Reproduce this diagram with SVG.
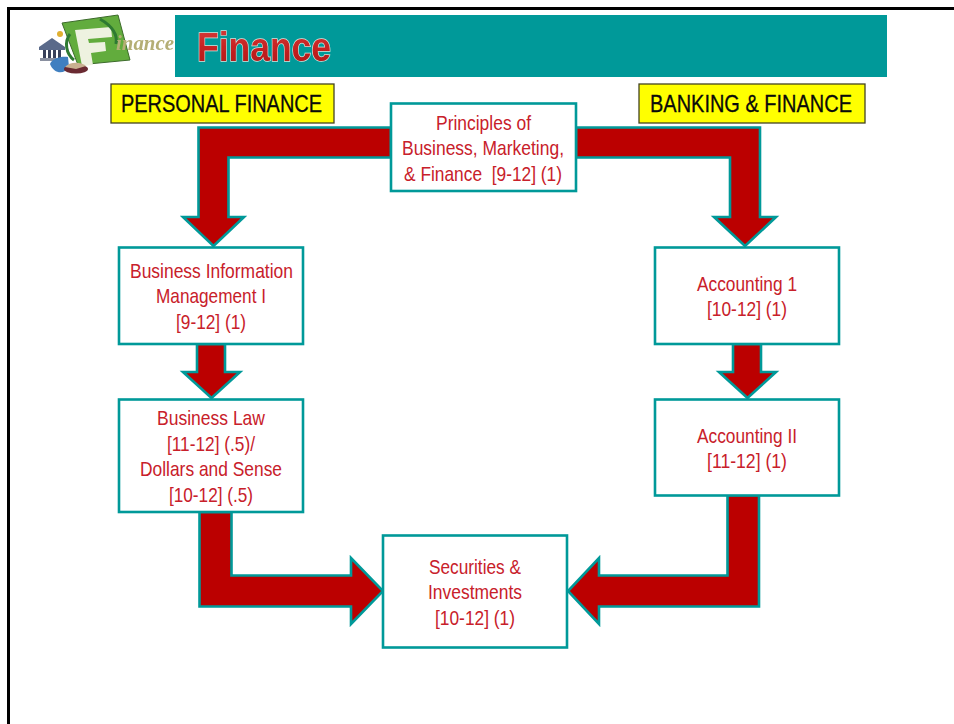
<svg xmlns="http://www.w3.org/2000/svg" width="954" height="724" viewBox="0 0 954 724">
  <defs>
    <linearGradient id="titleFill" x1="0" y1="0" x2="0" y2="1">
      <stop offset="0" stop-color="#d8403c"/>
      <stop offset="0.55" stop-color="#c42020"/>
      <stop offset="1" stop-color="#a81818"/>
    </linearGradient>
    <filter id="soft" x="-5%" y="-5%" width="110%" height="110%"><feGaussianBlur stdDeviation="0.7"/></filter>
    <filter id="softTitle" x="-5%" y="-10%" width="110%" height="120%"><feGaussianBlur stdDeviation="0.35"/></filter>
  </defs>
  <style>
    text { font-family: "Liberation Sans", Arial, sans-serif; }
    .box { fill: #ffffff; stroke: #009999; stroke-width: 2.600; }
    .arrow { fill: #bb0000; stroke: #009999; stroke-width: 2.600; stroke-linejoin: miter; }
    .label { fill: #c8202a; font-size: 21px; text-anchor: middle; }
    .track { fill: #ffff00; stroke: #444422; stroke-width: 1.300; }
    .trackText { fill: #0a0a0a; stroke: #0a0a0a; stroke-width: 0.3; font-size: 24px; }
  </style>
  <rect width="954" height="724" fill="#ffffff"/>
  <path d="M8.5 724V8.5H954" fill="none" stroke="#000000" stroke-width="3"/>

  <g id="logo" filter="url(#soft)">
    <path d="M62 23L118 15L130 60L78 65Z" fill="#62ac3c" stroke="#3d6b2c" stroke-width="1"/>
    <path d="M75 30L111 27L112 37L88 39L89 43L105 42L106 51L91 53L93 65L82 66Z" fill="#eef2e0"/>
    <path d="M70 34C64 42 66 54 74 60M100 19C112 26 118 34 116 44" fill="none" stroke="#2f7a32" stroke-width="3"/>
    <path d="M39 47L52 38L65 47V50H39Z" fill="#5a6a8a"/>
    <path d="M43 50h3v9h-3zM48 50h3v9h-3zM53 50h3v9h-3zM58 50h3v9h-3z" fill="#39415a"/>
    <rect x="40" y="58" width="24" height="3" fill="#8a90a0"/>
    <circle cx="60" cy="34" r="3" fill="#e0b030"/>
    <path d="M50 64C52 58 62 56 68 57L69 67C64 75 54 74 50 64Z" fill="#3f7fc0"/>
    <ellipse cx="76" cy="69" rx="12" ry="4.500" fill="#6a2a30"/>
    <path d="M65 67C69 62 80 61 86 66L76 69Z" fill="#c9b090"/>
    <text x="116" y="50" font-size="21" font-style="italic" font-weight="700" textLength="58" lengthAdjust="spacingAndGlyphs" style="font-family:'Liberation Serif',serif" fill="#b4ae74">inance</text>
  </g>

  <g id="banner">
    <rect x="175" y="15" width="712" height="62" fill="#009999"/>
    <text x="197" y="61" font-size="41" font-weight="700" textLength="134" lengthAdjust="spacingAndGlyphs" fill="url(#titleFill)" stroke="#d8e4dc" stroke-width="1.400" paint-order="stroke" filter="url(#softTitle)">Finance</text>
  </g>

  <g id="connectors">
    <path class="arrow" d="M391 127.500H198.500V217H183L213.500 246L244 217H228.500V157.500H391Z"/>
    <path class="arrow" d="M576 127.500H760V217H776L745 246L714 217H730V157.500H576Z"/>
    <path class="arrow" d="M197 344V372H183L211.500 398L240 372H225V344Z"/>
    <path class="arrow" d="M733 344V372H719L747.500 398L776 372H761V344Z"/>
    <path class="arrow" d="M199.500 512V606.500H351V624L383 591L351 558V575.500H231.500V512Z"/>
    <path class="arrow" d="M759 495V606.500H599V624L568 591L599 558V575.500H727.500V495Z"/>
  </g>

  <g id="track-personal">
    <rect class="track" x="111" y="84" width="223" height="39"/>
    <text class="trackText" x="121" y="112" textLength="201" lengthAdjust="spacingAndGlyphs">PERSONAL FINANCE</text>
  </g>
  <g id="track-banking">
    <rect class="track" x="639" y="84" width="226" height="39"/>
    <text class="trackText" x="650" y="112" textLength="202" lengthAdjust="spacingAndGlyphs">BANKING &amp; FINANCE</text>
  </g>

  <g id="node-principles">
    <rect class="box" x="391" y="103.500" width="185" height="87.500"/>
    <text class="label" x="483.500" y="130" textLength="95" lengthAdjust="spacingAndGlyphs">Principles of</text>
    <text class="label" x="483" y="155" textLength="162" lengthAdjust="spacingAndGlyphs">Business, Marketing,</text>
    <text class="label" x="483" y="181" textLength="158" lengthAdjust="spacingAndGlyphs" xml:space="preserve">&amp; Finance  [9-12] (1)</text>
  </g>
  <g id="node-bim">
    <rect class="box" x="119" y="247.500" width="184" height="96.500"/>
    <text class="label" x="211.500" y="278" textLength="163" lengthAdjust="spacingAndGlyphs">Business Information</text>
    <text class="label" x="211" y="303" textLength="110" lengthAdjust="spacingAndGlyphs">Management I</text>
    <text class="label" x="211" y="329" textLength="70" lengthAdjust="spacingAndGlyphs">[9-12] (1)</text>
  </g>
  <g id="node-accounting1">
    <rect class="box" x="655" y="247.500" width="184" height="96.500"/>
    <text class="label" x="747" y="291" textLength="100" lengthAdjust="spacingAndGlyphs">Accounting 1</text>
    <text class="label" x="747" y="316" textLength="80" lengthAdjust="spacingAndGlyphs">[10-12] (1)</text>
  </g>
  <g id="node-businesslaw">
    <rect class="box" x="119" y="399.500" width="184" height="112.500"/>
    <text class="label" x="211" y="425" textLength="108" lengthAdjust="spacingAndGlyphs">Business Law</text>
    <text class="label" x="211" y="451" textLength="88" lengthAdjust="spacingAndGlyphs">[11-12] (.5)/</text>
    <text class="label" x="211" y="476" textLength="142" lengthAdjust="spacingAndGlyphs">Dollars and Sense</text>
    <text class="label" x="211" y="502" textLength="84" lengthAdjust="spacingAndGlyphs">[10-12] (.5)</text>
  </g>
  <g id="node-accounting2">
    <rect class="box" x="655" y="399.500" width="184" height="96"/>
    <text class="label" x="747" y="443" textLength="100" lengthAdjust="spacingAndGlyphs">Accounting II</text>
    <text class="label" x="747" y="468" textLength="80" lengthAdjust="spacingAndGlyphs">[11-12] (1)</text>
  </g>
  <g id="node-securities">
    <rect class="box" x="383" y="535.500" width="184" height="112"/>
    <text class="label" x="475" y="574" textLength="92" lengthAdjust="spacingAndGlyphs">Securities &amp;</text>
    <text class="label" x="475" y="599" textLength="94" lengthAdjust="spacingAndGlyphs">Investments</text>
    <text class="label" x="475" y="625" textLength="80" lengthAdjust="spacingAndGlyphs">[10-12] (1)</text>
  </g>
</svg>
